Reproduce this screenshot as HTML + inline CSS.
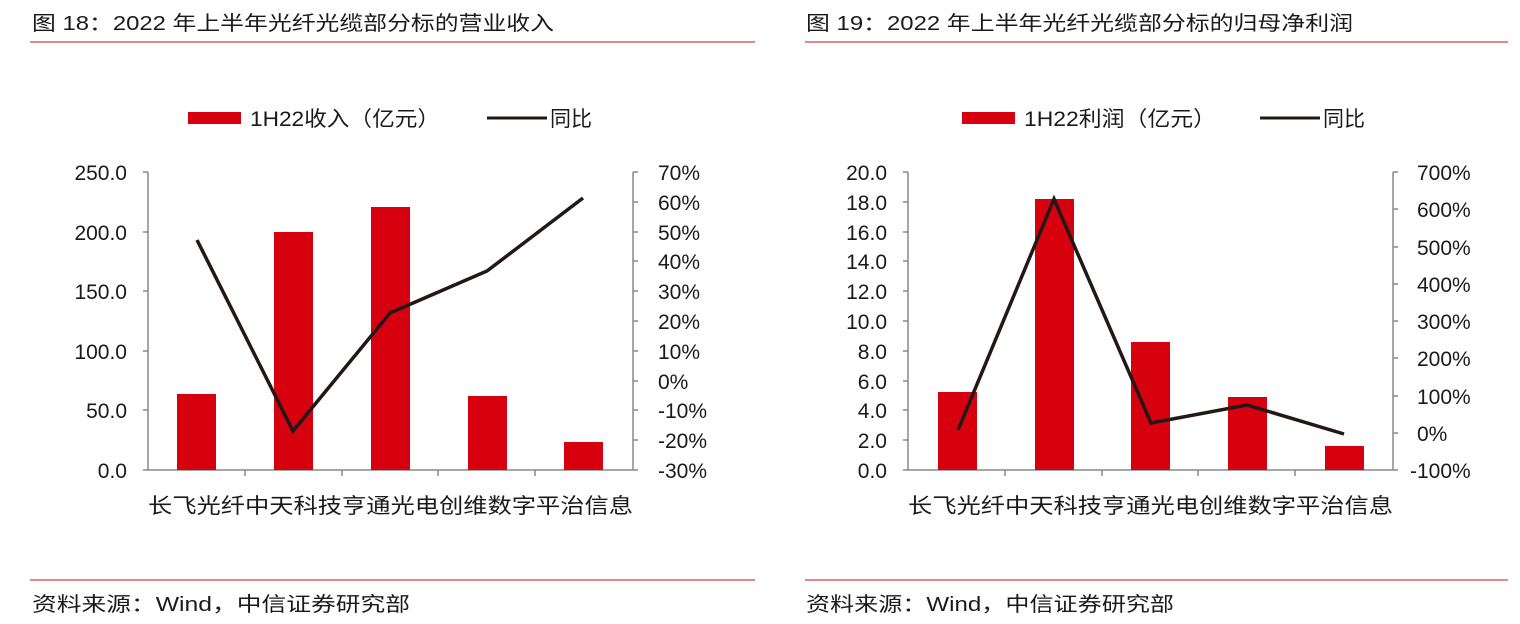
<!DOCTYPE html>
<html><head><meta charset="utf-8"><style>
body{margin:0;background:#fff;}
svg text{font-family:"Liberation Sans","Noto Sans CJK SC",sans-serif;fill:#1a1a1a;}
</style></head><body>
<svg width="1520" height="619" viewBox="0 0 1520 619" xmlns="http://www.w3.org/2000/svg">
<text x="32" y="30" font-size="20" textLength="522" lengthAdjust="spacingAndGlyphs">图 18：2022 年上半年光纤光缆部分标的营业收入</text>
<text x="806" y="30" font-size="20" textLength="547" lengthAdjust="spacingAndGlyphs">图 19：2022 年上半年光纤光缆部分标的归母净利润</text>
<line x1="30" y1="42" x2="755" y2="42" stroke="#e08a8a" stroke-width="2"/>
<line x1="805" y1="42" x2="1508" y2="42" stroke="#e08a8a" stroke-width="2"/>
<line x1="30" y1="580" x2="755" y2="580" stroke="#e08a8a" stroke-width="2"/>
<line x1="805" y1="580" x2="1508" y2="580" stroke="#e08a8a" stroke-width="2"/>
<text x="32" y="611" font-size="20" textLength="378" lengthAdjust="spacingAndGlyphs">资料来源：Wind，中信证券研究部</text>
<text x="806" y="611" font-size="20" textLength="368" lengthAdjust="spacingAndGlyphs">资料来源：Wind，中信证券研究部</text>

<rect x="188" y="112" width="53" height="12" fill="#d7000f"/>
<text x="250" y="126" font-size="21" textLength="190" lengthAdjust="spacingAndGlyphs">1H22收入（亿元）</text>
<line x1="487" y1="118" x2="547" y2="118" stroke="#231815" stroke-width="3"/>
<text x="550" y="126" font-size="21">同比</text>
<rect x="962" y="112" width="53" height="12" fill="#d7000f"/>
<text x="1024" y="126" font-size="21" textLength="192" lengthAdjust="spacingAndGlyphs">1H22利润（亿元）</text>
<line x1="1260" y1="118" x2="1320" y2="118" stroke="#231815" stroke-width="3"/>
<text x="1323" y="126" font-size="21">同比</text>

<!-- LEFT CHART -->
<g stroke="#888" stroke-width="1.5" fill="none">
<line x1="148" y1="172" x2="148" y2="470"/>
<line x1="633" y1="172" x2="633" y2="470"/>
<line x1="143" y1="470" x2="638" y2="470"/>
</g>
<g stroke="#888" stroke-width="1.5">
<line x1="143" y1="172" x2="148" y2="172"/><line x1="143" y1="232" x2="148" y2="232"/><line x1="143" y1="291" x2="148" y2="291"/><line x1="143" y1="351" x2="148" y2="351"/><line x1="143" y1="410" x2="148" y2="410"/>
<line x1="633" y1="172" x2="638" y2="172"/><line x1="633" y1="202" x2="638" y2="202"/><line x1="633" y1="232" x2="638" y2="232"/><line x1="633" y1="261" x2="638" y2="261"/><line x1="633" y1="291" x2="638" y2="291"/><line x1="633" y1="321" x2="638" y2="321"/><line x1="633" y1="351" x2="638" y2="351"/><line x1="633" y1="381" x2="638" y2="381"/><line x1="633" y1="410" x2="638" y2="410"/><line x1="633" y1="440" x2="638" y2="440"/>
<line x1="245" y1="470" x2="245" y2="476"/><line x1="342" y1="470" x2="342" y2="476"/><line x1="438" y1="470" x2="438" y2="476"/><line x1="535" y1="470" x2="535" y2="476"/>
</g>
<g font-size="21" text-anchor="end">
<text x="127" y="180">250.0</text><text x="127" y="240">200.0</text><text x="127" y="299">150.0</text><text x="127" y="359">100.0</text><text x="127" y="418">50.0</text><text x="127" y="478">0.0</text>
</g>
<g font-size="21">
<text x="658" y="180">70%</text><text x="658" y="210">60%</text><text x="658" y="240">50%</text><text x="658" y="269">40%</text><text x="658" y="299">30%</text><text x="658" y="329">20%</text><text x="658" y="359">10%</text><text x="658" y="389">0%</text><text x="658" y="418">-10%</text><text x="658" y="448">-20%</text><text x="658" y="478">-30%</text>
</g>
<g fill="#d7000f">
<rect x="177" y="394" width="39" height="76"/>
<rect x="274" y="232" width="39" height="238"/>
<rect x="371" y="207" width="39" height="263"/>
<rect x="468" y="396" width="39" height="74"/>
<rect x="564" y="442" width="39" height="28"/>
</g>
<polyline points="197,240 293,431 390,313 487,271 583,198" fill="none" stroke="#231815" stroke-width="3.5"/>
<text x="148" y="513" font-size="21" textLength="485" lengthAdjust="spacingAndGlyphs">长飞光纤中天科技亨通光电创维数字平治信息</text>

<!-- RIGHT CHART -->
<g stroke="#888" stroke-width="1.5" fill="none">
<line x1="908" y1="172" x2="908" y2="470"/>
<line x1="1393" y1="172" x2="1393" y2="470"/>
<line x1="903" y1="470" x2="1398" y2="470"/>
</g>
<g stroke="#888" stroke-width="1.5">
<line x1="903" y1="172" x2="908" y2="172"/><line x1="903" y1="202" x2="908" y2="202"/><line x1="903" y1="232" x2="908" y2="232"/><line x1="903" y1="261" x2="908" y2="261"/><line x1="903" y1="291" x2="908" y2="291"/><line x1="903" y1="321" x2="908" y2="321"/><line x1="903" y1="351" x2="908" y2="351"/><line x1="903" y1="381" x2="908" y2="381"/><line x1="903" y1="410" x2="908" y2="410"/><line x1="903" y1="440" x2="908" y2="440"/>
<line x1="1393" y1="172" x2="1398" y2="172"/><line x1="1393" y1="209" x2="1398" y2="209"/><line x1="1393" y1="247" x2="1398" y2="247"/><line x1="1393" y1="284" x2="1398" y2="284"/><line x1="1393" y1="321" x2="1398" y2="321"/><line x1="1393" y1="358" x2="1398" y2="358"/><line x1="1393" y1="396" x2="1398" y2="396"/><line x1="1393" y1="433" x2="1398" y2="433"/>
<line x1="1005" y1="470" x2="1005" y2="476"/><line x1="1102" y1="470" x2="1102" y2="476"/><line x1="1198" y1="470" x2="1198" y2="476"/><line x1="1295" y1="470" x2="1295" y2="476"/>
</g>
<g font-size="21" text-anchor="end">
<text x="887" y="180">20.0</text><text x="887" y="210">18.0</text><text x="887" y="240">16.0</text><text x="887" y="269">14.0</text><text x="887" y="299">12.0</text><text x="887" y="329">10.0</text><text x="887" y="359">8.0</text><text x="887" y="389">6.0</text><text x="887" y="418">4.0</text><text x="887" y="448">2.0</text><text x="887" y="478">0.0</text>
</g>
<g font-size="21">
<text x="1417" y="180">700%</text><text x="1417" y="217">600%</text><text x="1417" y="255">500%</text><text x="1417" y="292">400%</text><text x="1417" y="329">300%</text><text x="1417" y="366">200%</text><text x="1417" y="404">100%</text><text x="1417" y="441">0%</text><text x="1410" y="478">-100%</text>
</g>
<g fill="#d7000f">
<rect x="938" y="392" width="39" height="78"/>
<rect x="1035" y="199" width="39" height="271"/>
<rect x="1131" y="342" width="39" height="128"/>
<rect x="1228" y="397" width="39" height="73"/>
<rect x="1325" y="446" width="39" height="24"/>
</g>
<polyline points="958,430 1054,199 1151,423 1247,405 1344,434" fill="none" stroke="#231815" stroke-width="3.5"/>
<text x="908" y="513" font-size="21" textLength="485" lengthAdjust="spacingAndGlyphs">长飞光纤中天科技亨通光电创维数字平治信息</text>
</svg>
</body></html>
